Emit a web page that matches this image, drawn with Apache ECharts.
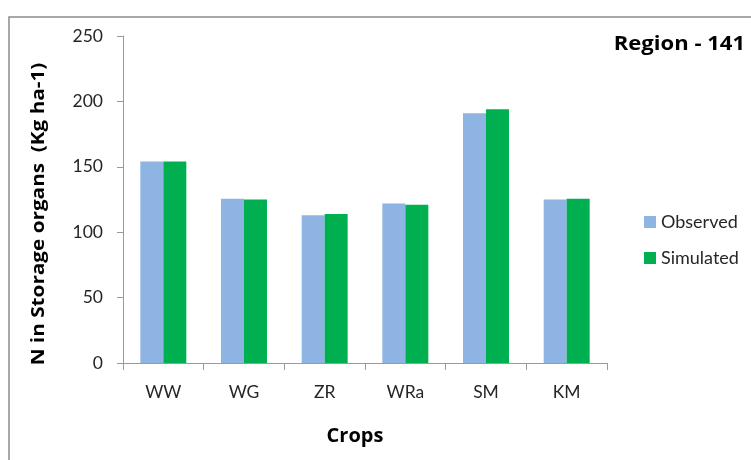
<!DOCTYPE html>
<html>
<head>
<meta charset="utf-8">
<script src="https://cdn.jsdelivr.net/npm/echarts@6/dist/echarts.min.js"></script>
<style>
  html, body { margin: 0; padding: 0; background: #fff; }
  #chart { width: 751px; height: 460px; }
</style>
</head>
<body>
<div id="chart"></div>
<script>
// Crop categories and nitrogen in storage organs (kg/ha)
const crops = ['WW', 'WG', 'ZR', 'WRa', 'SM', 'KM'];
const observed = [154, 125.5, 113, 122, 191, 125];
const simulated = [154, 125, 114, 121, 194, 125.5];
const yTicks = [0, 50, 100, 150, 200, 250];

const FONT = 'Lato, "Open Sans", sans-serif';
const BOLD_FONT = '"Open Sans", Lato, sans-serif';
const chart = echarts.init(document.getElementById('chart'), null, { renderer: 'canvas' });

chart.setOption({
  backgroundColor: '#ffffff',
  animation: false,
  graphic: [
    {
      type: 'rect',
      shape: { x: 9, y: 17, width: 800, height: 500 },
      style: { fill: 'none', stroke: '#8c8c8c', lineWidth: 1.5 },
      silent: true
    },
    {
      type: 'text',
      x: 745,
      y: 45,
      scaleX: 1.16,
      style: {
        text: 'Region - 141', font: 'bold 19px ' + BOLD_FONT, fill: '#000',
        textAlign: 'right', textVerticalAlign: 'middle'
      }
    },
    {
      type: 'text',
      x: 39,
      y: 214,
      rotation: Math.PI / 2,
      scaleX: 1.12,
      style: {
        text: 'N in Storage organs  (Kg ha-1)', font: 'bold 18.5px ' + BOLD_FONT, fill: '#000',
        textAlign: 'center', textVerticalAlign: 'middle'
      }
    },
    {
      type: 'text',
      x: 355,
      y: 436,
      style: {
        text: 'Crops', font: 'bold 20px ' + BOLD_FONT, fill: '#000',
        textAlign: 'center', textVerticalAlign: 'middle'
      }
    }
  ],
  legend: {
    orient: 'vertical',
    left: 639,
    top: 208,
    itemWidth: 12,
    itemHeight: 12,
    itemGap: 18,
    icon: 'rect',
    textStyle: { fontFamily: FONT, fontSize: 18, color: '#262626' },
    data: ['Observed', 'Simulated']
  },
  grid: { left: 123, right: 144, top: 36, bottom: 97, containLabel: false },
  xAxis: {
    type: 'category',
    data: crops,
    axisLine: { lineStyle: { color: '#9a9a9a', width: 1 } },
    axisTick: { show: true, length: 7, alignWithLabel: false, lineStyle: { color: '#9a9a9a' } },
    axisLabel: { fontFamily: FONT, fontSize: 17.5, color: '#262626', margin: 20 }
  },
  yAxis: {
    type: 'value',
    min: yTicks[0],
    max: yTicks[yTicks.length - 1],
    interval: 50,
    axisLine: { show: true, lineStyle: { color: '#9a9a9a', width: 1 } },
    axisTick: { show: true, length: 6, lineStyle: { color: '#9a9a9a' } },
    splitLine: { show: false },
    axisLabel: { fontFamily: FONT, fontSize: 17.5, color: '#262626', margin: 20 }
  },
  series: [
    {
      name: 'Observed',
      type: 'bar',
      data: observed,
      barGap: '0%',
      barCategoryGap: '43%',
      itemStyle: { color: '#8EB4E3' }
    },
    {
      name: 'Simulated',
      type: 'bar',
      data: simulated,
      itemStyle: { color: '#00B050' }
    }
  ]
});
</script>
</body>
</html>
